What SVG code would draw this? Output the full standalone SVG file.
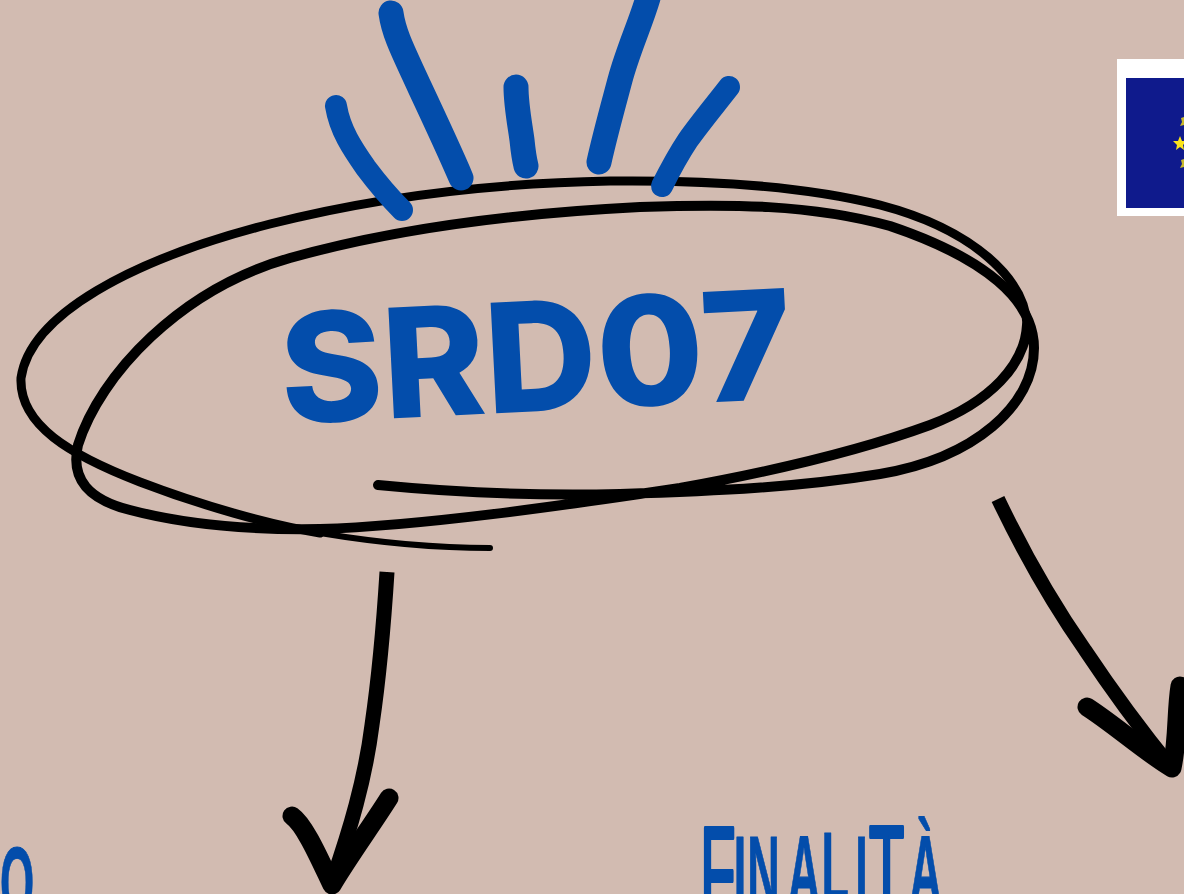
<svg xmlns="http://www.w3.org/2000/svg" width="1184" height="894" viewBox="0 0 1184 894">
<style>
.ink{fill:none;stroke:#000;stroke-linecap:round;stroke-linejoin:round}
.ray{fill:none;stroke:#034dab;stroke-width:25;stroke-linecap:round;stroke-linejoin:round}
.hand{font-family:"Liberation Sans Narrow","Liberation Sans",sans-serif;font-weight:700;fill:#034dab;stroke:#034dab;stroke-width:1;stroke-linejoin:round}
.thin{font-weight:400;stroke-width:4}
</style>
<rect width="1184" height="894" fill="#d2bbb1"/>
<g id="scribble">
<path class="ink" stroke-width="10" d="M378 485C450 492 540 496 620 494C720 491 800 487 880 474C975 458 1034 405 1034 348C1034 300 985 258 890 226C810 204 730 204 640 207C520 213 400 227 290 258C180 289 100 375 78 445C70 480 90 500 130 510C190 526 260 530 320 529C420 526 560 506 680 488C780 470 870 447 930 425C990 402 1025 365 1027 325"/>
<path class="ink" stroke-width="9" d="M1027 325C1025 280 975 230 880 205C800 185 700 180 610 181C500 183 380 196 270 224C130 260 30 315 21 378C19 425 70 455 140 482C200 505 270 525 320 533"/>
<path class="ink" stroke-width="6" d="M320 533C380 543 440 548 490 548"/>
</g>
<g id="rays">
<path class="ray" style="stroke-width:22" d="M336 106C340 130 352 148 366 168C378 184 390 198 402 210"/>
<path class="ray" d="M391 13C394 35 405 55 420 88C435 120 450 152 461 178"/>
<path class="ray" d="M516 87C516 105 520 125 522 140C523 150 524 158 526 166"/>
<path class="ray" d="M648 -2C640 25 628 50 620 80C612 110 605 135 599 162"/>
<path class="ray" style="stroke-width:22" d="M729 87C715 105 700 123 688 140C678 155 670 170 662 186"/>
</g>
<g id="srd07">
<text x="283" y="424" transform="rotate(-2.9 283 424)" font-family="Inter,'Liberation Sans',sans-serif" font-weight="800" font-size="152" textLength="512" lengthAdjust="spacingAndGlyphs" fill="#034dab">SRD07</text>
</g>
<g id="connectors">
<path class="ink" stroke-width="15" style="stroke-linecap:butt" d="M387 572C384 620 380 670 372 725C365 780 350 830 332 882"/>
<path class="ink" stroke-width="19" d="M292 816C305 825 320 860 332 885C350 855 372 825 389 798"/>
<path class="ink" stroke-width="14" style="stroke-linecap:butt" d="M998 499C1020 545 1050 600 1085 650C1115 695 1145 735 1172 768"/>
<path class="ink" stroke-width="19" d="M1087 707C1115 725 1145 752 1172 768C1178 740 1176 710 1180 686"/>
</g>
<g id="flag">
<rect x="1117" y="59" width="67" height="157" fill="#fff"/>
<rect x="1126" y="78" width="58" height="130" fill="#0f1a8c"/>
<polygon fill="#fbe51c" points="1180,136 1182,141 1187,141 1183,145 1184,150 1180,147 1176,150 1177,145 1173,141 1178,141"/>
<polygon fill="#c9b92c" points="1184,117 1181,118 1182,122 1180,126 1184,125"/>
<polygon fill="#c9b92c" points="1184,159 1181,160 1182,164 1180,168 1184,167"/>
</g>
<g id="labels">
<text class="hand" transform="translate(700 0) scale(.45 1)" font-size="100"><tspan class="thin" x="0" y="917" font-size="130">F</tspan><tspan x="75" y="906">I</tspan><tspan x="105" y="906">N</tspan><tspan x="195" y="906">A</tspan><tspan x="270" y="902">L</tspan><tspan x="345" y="906">I</tspan><tspan class="thin" x="375" y="917" font-size="130">T</tspan><tspan x="465" y="906">À</tspan></text>
<text class="hand" transform="scale(.44 1)" x="0" y="917" font-size="100">O</text>
</g>
</svg>
